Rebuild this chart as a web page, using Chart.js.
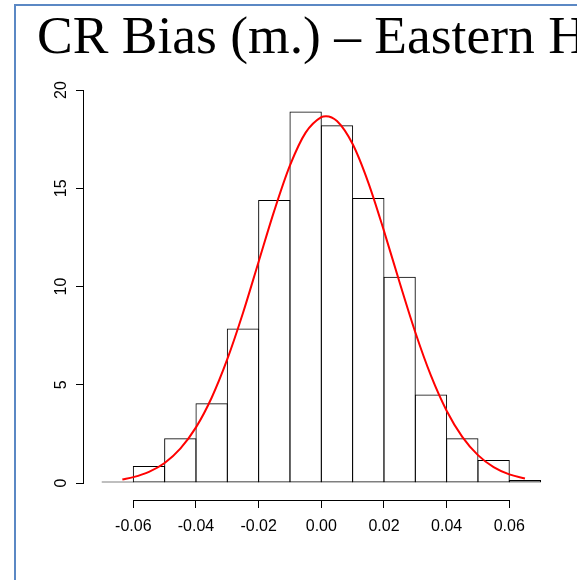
<!DOCTYPE html>
<html>
<head>
<meta charset="utf-8">
<script src="https://cdn.jsdelivr.net/npm/chart.js@4/dist/chart.umd.min.js"></script>
<style>
  html, body { margin: 0; padding: 0; background: #ffffff; overflow: hidden; width: 577px; height: 580px; }
  #frame { position: absolute; left: 14px; top: 4px; width: 800px; height: 800px;
           border-top: 2px solid #5B88C4; border-left: 2px solid #5B88C4; box-sizing: border-box; }
  #title { position: absolute; left: 37px; top: 9px; font-family: "Liberation Serif", "Times New Roman", serif;
           font-size: 53.5px; line-height: 1; white-space: nowrap; color: #000; }
  #wrap { position: absolute; left: 0; top: 0; width: 577px; height: 580px; }
</style>
</head>
<body>
<div id="frame"></div>
<div id="title">CR Bias (m.) – Eastern H</div>
<div id="wrap"><canvas id="c" width="577" height="580"></canvas></div>
<script>
// ---- Data ----
const binCenters = [-0.065, -0.055, -0.045, -0.035, -0.025, -0.015, -0.005, 0.005, 0.015, 0.025, 0.035, 0.045, 0.055, 0.065];
const density    = [0.08, 0.87, 2.28, 4.06, 7.86, 14.4, 18.9, 18.2, 14.5, 10.5, 4.5, 2.28, 1.17, 0.15];
const curveX = [-0.0635, -0.06, -0.055, -0.05, -0.045, -0.04, -0.035, -0.03, -0.025, -0.02, -0.015, -0.01, -0.005, 0.0, 0.0015,
                0.005, 0.01, 0.015, 0.02, 0.025, 0.03, 0.035, 0.04, 0.045, 0.05, 0.055, 0.06, 0.065];
const curveY = [0.18, 0.30, 0.57, 1.02, 1.75, 2.83, 4.34, 6.30, 8.65, 11.26, 13.86, 16.16, 17.83, 18.62, 18.67,
                18.42, 17.25, 15.29, 12.83, 10.20, 7.67, 5.46, 3.68, 2.35, 1.42, 0.81, 0.44, 0.23];
const xTickValues = [-0.06, -0.04, -0.02, 0.00, 0.02, 0.04, 0.06];
const yTickValues = [0, 5, 10, 15, 20];

const tickFont = { family: "'Liberation Sans', Arial, sans-serif", size: 16 };

const rAxisLines = {
  id: 'rAxisLines',
  afterDraw(chart) {
    const ctx = chart.ctx, xs = chart.scales.x, ys = chart.scales.y, area = chart.chartArea;
    ctx.save();
    ctx.strokeStyle = '#000';
    ctx.lineWidth = 1;
    ctx.beginPath();
    const yb = Math.round(area.bottom) + 0.5;
    ctx.moveTo(xs.getPixelForValue(xTickValues[0]), yb);
    ctx.lineTo(xs.getPixelForValue(xTickValues[xTickValues.length - 1]), yb);
    const xl = Math.round(area.left) - 0.5;
    ctx.moveTo(xl, ys.getPixelForValue(yTickValues[0]));
    ctx.lineTo(xl, ys.getPixelForValue(yTickValues[yTickValues.length - 1]));
    ctx.stroke();
    ctx.restore();
  }
};

new Chart(document.getElementById('c'), {
  type: 'bar',
  data: {
    datasets: [
      {
        type: 'line',
        order: 0,
        data: curveX.map((x, i) => ({ x: x, y: curveY[i] })),
        borderColor: '#ff0000',
        borderWidth: 2,
        pointRadius: 0,
        fill: false,
        cubicInterpolationMode: 'monotone'
      },
      {
        type: 'bar',
        order: 1,
        data: binCenters.map((x, i) => ({ x: x, y: density[i] })),
        backgroundColor: 'rgba(255,255,255,0)',
        borderColor: '#000000',
        borderSkipped: false,
        borderWidth: 1,
        barPercentage: 1.032,
        categoryPercentage: 1
      }
    ]
  },
  options: {
    responsive: false,
    devicePixelRatio: 1,
    animation: false,
    layout: { padding: { left: 0, right: 32, top: 90, bottom: 40 } },
    plugins: { legend: { display: false }, tooltip: { enabled: false }, title: { display: false } },
    scales: {
      x: {
        type: 'linear',
        min: -0.07574,
        max: 0.0714,
        offset: false,
        afterBuildTicks: (s) => { s.ticks = xTickValues.map(v => ({ value: v })); },
        afterFit: (s) => { s.height = 40; },
        border: { display: false },
        grid: { offset: false, drawOnChartArea: false, drawTicks: true, tickLength: 8, color: '#000', lineWidth: 1 },
        ticks: {
          autoSkip: false, maxRotation: 0, minRotation: 0, padding: 9, color: '#000', font: tickFont,
          callback: (v) => Number(v).toFixed(2)
        }
      },
      y: {
        type: 'linear',
        min: -0.865,
        max: 20,
        afterBuildTicks: (s) => { s.ticks = yTickValues.map(v => ({ value: v })); },
        afterFit: (s) => { s.width = 84; },
        border: { display: false },
        grid: { drawOnChartArea: false, drawTicks: true, tickLength: 8, color: '#000', lineWidth: 1 },
        ticks: {
          autoSkip: false, minRotation: 90, maxRotation: 90, crossAlign: 'center', padding: 6,
          color: '#000', font: tickFont,
          callback: (v) => String(v)
        }
      }
    }
  },
  plugins: [rAxisLines]
});
</script>
</body>
</html>
